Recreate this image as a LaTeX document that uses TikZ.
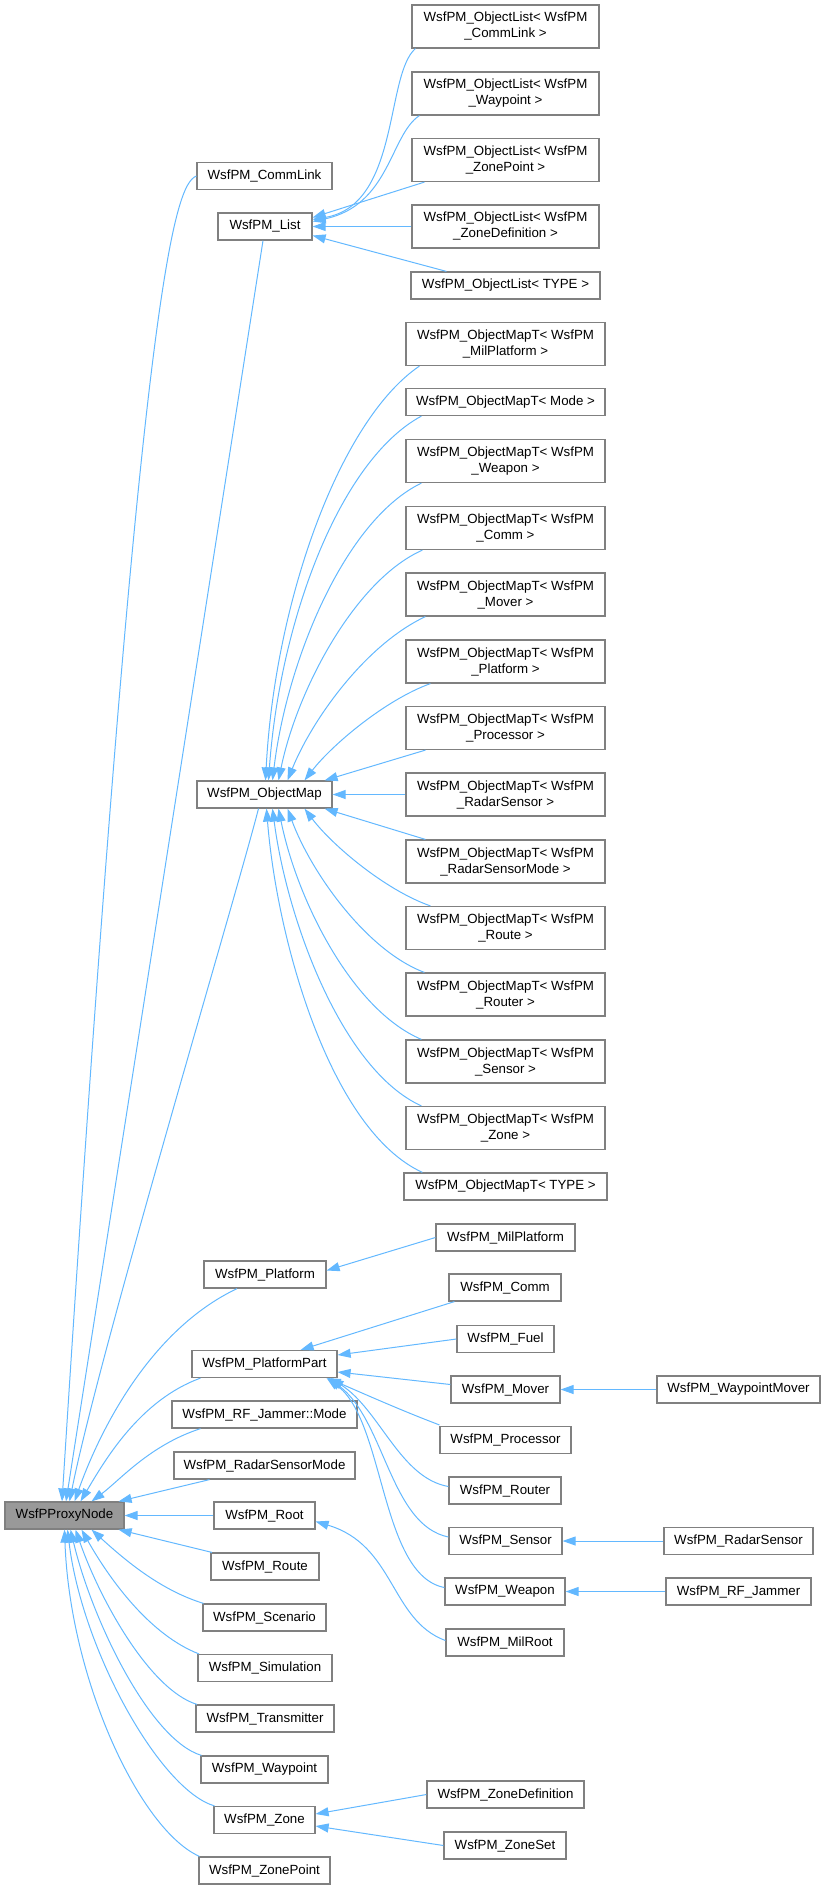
\documentclass[tikz,border=0pt]{standalone}
\usepackage{fontspec}
\setmainfont{Liberation Sans}
\usetikzlibrary{arrows.meta}
\begin{document}
\begin{tikzpicture}[x=1pt,y=1pt,
  box/.style={draw=black!50, line width=1.2pt, fill=white, inner sep=0pt, align=center,
    minimum height=27pt, font=\fontsize{13.3}{16}\selectfont},
  two/.style={minimum height=43pt},
  w/.style={minimum width=#1pt},
  e/.style={draw=edgeblue, line width=1pt, -{Triangle[length=13pt,width=9pt]}}]
\definecolor{edgeblue}{RGB}{99,184,255}
\useasboundingbox (0,0) rectangle (822,-1889);
% left
\node[box,w=119,fill=black!40] (PN) at (64.5,-1515.5) {WsfPProxyNode};
% column B
\node[box,w=135] (CL) at (264.5,-176) {WsfPM\_CommLink};
\node[box,w=94] (LS) at (265,-226.5) {WsfPM\_List};
\node[box,w=135] (OM) at (264.5,-794.5) {WsfPM\_ObjectMap};
\node[box,w=122] (PF) at (265,-1274.5) {WsfPM\_Platform};
\node[box,w=145] (PP) at (264.5,-1364) {WsfPM\_PlatformPart};
\node[box,w=185] (RJM) at (264.5,-1414.5) {WsfPM\_RF\_Jammer::Mode};
\node[box,w=181] (RSM) at (264.5,-1465.5) {WsfPM\_RadarSensorMode};
\node[box,w=101] (RT) at (264.5,-1515.5) {WsfPM\_Root};
\node[box,w=108] (RO) at (265,-1566.5) {WsfPM\_Route};
\node[box,w=123] (SC) at (264.5,-1617.5) {WsfPM\_Scenario};
\node[box,w=134] (SI) at (265,-1668) {WsfPM\_Simulation};
\node[box,w=138] (TR) at (265,-1718.5) {WsfPM\_Transmitter};
\node[box,w=127] (WP) at (264.5,-1769.5) {WsfPM\_Waypoint};
\node[box,w=101] (ZN) at (264.5,-1820) {WsfPM\_Zone};
\node[box,w=131] (ZP) at (264.5,-1870.5) {WsfPM\_ZonePoint};
% object lists
\node[box,two,w=187] (OLc) at (505.5,-26.5) {WsfPM\_ObjectList< WsfPM\\\_CommLink >};
\node[box,two,w=187] (OLw) at (505.5,-93.5) {WsfPM\_ObjectList< WsfPM\\\_Waypoint >};
\node[box,two,w=187] (OLz) at (505.5,-160) {WsfPM\_ObjectList< WsfPM\\\_ZonePoint >};
\node[box,two,w=187] (OLd) at (505.5,-226.5) {WsfPM\_ObjectList< WsfPM\\\_ZoneDefinition >};
\node[box,w=189] (OLt) at (505.5,-285.5) {WsfPM\_ObjectList< TYPE >};
% object maps
\node[box,two,w=199] (M1) at (505.5,-344) {WsfPM\_ObjectMapT< WsfPM\\\_MilPlatform >};
\node[box,w=199] (M2) at (505.5,-402) {WsfPM\_ObjectMapT< Mode >};
\node[box,two,w=199] (M3) at (505.5,-461) {WsfPM\_ObjectMapT< WsfPM\\\_Weapon >};
\node[box,two,w=199] (M4) at (505.5,-528) {WsfPM\_ObjectMapT< WsfPM\\\_Comm >};
\node[box,two,w=199] (M5) at (505.5,-594.5) {WsfPM\_ObjectMapT< WsfPM\\\_Mover >};
\node[box,two,w=199] (M6) at (505.5,-661.5) {WsfPM\_ObjectMapT< WsfPM\\\_Platform >};
\node[box,two,w=199] (M7) at (505.5,-728) {WsfPM\_ObjectMapT< WsfPM\\\_Processor >};
\node[box,two,w=199] (M8) at (505.5,-794.5) {WsfPM\_ObjectMapT< WsfPM\\\_RadarSensor >};
\node[box,two,w=199] (M9) at (505.5,-861.5) {WsfPM\_ObjectMapT< WsfPM\\\_RadarSensorMode >};
\node[box,two,w=199] (M10) at (505.5,-928) {WsfPM\_ObjectMapT< WsfPM\\\_Route >};
\node[box,two,w=199] (M11) at (505.5,-994.5) {WsfPM\_ObjectMapT< WsfPM\\\_Router >};
\node[box,two,w=199] (M12) at (505.5,-1061.5) {WsfPM\_ObjectMapT< WsfPM\\\_Sensor >};
\node[box,two,w=199] (M13) at (505.5,-1128) {WsfPM\_ObjectMapT< WsfPM\\\_Zone >};
\node[box,w=203] (M14) at (505.5,-1186.5) {WsfPM\_ObjectMapT< TYPE >};
% third column
\node[box,w=139] (MP) at (505.5,-1237.5) {WsfPM\_MilPlatform};
\node[box,w=112] (CO) at (505,-1287.5) {WsfPM\_Comm};
\node[box,w=97] (FU) at (505.5,-1339) {WsfPM\_Fuel};
\node[box,w=109] (MV) at (505.5,-1389.5) {WsfPM\_Mover};
\node[box,w=131] (PR) at (505.5,-1440) {WsfPM\_Processor};
\node[box,w=112] (RR) at (505,-1490.5) {WsfPM\_Router};
\node[box,w=113] (SE) at (505.5,-1541) {WsfPM\_Sensor};
\node[box,w=120] (WE) at (505,-1591.5) {WsfPM\_Weapon};
\node[box,w=118] (MR) at (505,-1642.5) {WsfPM\_MilRoot};
\node[box,w=157] (ZD) at (505.5,-1794.5) {WsfPM\_ZoneDefinition};
\node[box,w=122] (ZS) at (505,-1845.5) {WsfPM\_ZoneSet};
% far right
\node[box,w=163] (WM) at (738.5,-1389.5) {WsfPM\_WaypointMover};
\node[box,w=149] (RS) at (738.5,-1541) {WsfPM\_RadarSensor};
\node[box,w=145] (RJ) at (738.5,-1591.5) {WsfPM\_RF\_Jammer};
% edges to ProxyNode
\draw[e] (CL.west) .. controls (175,-185) and (140,-270) .. ([xshift=-2.5pt]PN.north);
\draw[e] ([xshift=-2pt]LS.south) -- ([xshift=1.5pt]PN.north);
\draw[e] ([xshift=-6pt]OM.south) .. controls (235,-900) and (100,-1350) .. ([xshift=5pt]PN.north);
\draw[e] ([xshift=-28pt]PF.south) .. controls (150,-1330) and (100,-1430) .. ([xshift=10pt]PN.north);
\draw[e] ([xshift=-64pt]PP.south) .. controls (140,-1400) and (105,-1460) .. ([xshift=16pt]PN.north);
\draw[e] ([xshift=-64pt]RJM.south) .. controls (150,-1445) and (120,-1480) .. ([xshift=27pt]PN.north);
\draw[e] ([xshift=-55pt]RSM.south) -- ([xshift=-6pt]PN.north east);
\draw[e] (RT.west) -- (PN.east);
\draw[e] ([xshift=-53pt]RO.north) -- ([xshift=-6pt]PN.south east);
\draw[e] ([xshift=-61pt]SC.north) .. controls (160,-1590) and (125,-1560) .. ([xshift=27pt]PN.south);
\draw[e] ([xshift=-66pt]SI.north) .. controls (150,-1635) and (110,-1580) .. ([xshift=17pt]PN.south);
\draw[e] ([xshift=-68pt]TR.north) .. controls (150,-1690) and (100,-1600) .. ([xshift=11pt]PN.south);
\draw[e] ([xshift=-63pt]WP.north) .. controls (150,-1740) and (92,-1620) .. ([xshift=6pt]PN.south);
\draw[e] ([xshift=-50pt]ZN.north) .. controls (160,-1790) and (82,-1650) .. ([xshift=3pt]PN.south);
\draw[e] ([xshift=-65pt]ZP.north) .. controls (140,-1830) and (70,-1680) .. ([xshift=0pt]PN.south);
% edges to List
\draw[e] ([xshift=4pt]OLc.south west) .. controls (385,-75) and (400,-205) .. ([yshift=7pt]LS.east);
\draw[e] ([xshift=8pt]OLw.south west) .. controls (390,-135) and (390,-205) .. ([yshift=5pt]LS.east);
\draw[e] ([xshift=13pt]OLz.south west) -- ([yshift=9pt]LS.east);
\draw[e] (OLd.west) -- (LS.east);
\draw[e] ([xshift=36pt]OLt.north west) -- ([yshift=-9pt]LS.east);
% edges to ObjectMap
\draw[e] ([xshift=14pt]M1.south west) .. controls (340,-420) and (275,-600) .. ([xshift=1pt]OM.north);
\draw[e] ([xshift=16pt]M2.south west) .. controls (340,-460) and (280,-620) .. ([xshift=4pt]OM.north);
\draw[e] ([xshift=16pt]M3.south west) .. controls (345,-520) and (287,-660) .. ([xshift=8pt]OM.north);
\draw[e] ([xshift=17pt]M4.south west) .. controls (355,-580) and (297,-690) .. ([xshift=14pt]OM.north);
\draw[e] ([xshift=20pt]M5.south west) .. controls (365,-645) and (312,-720) .. ([xshift=23pt]OM.north);
\draw[e] ([xshift=25pt]M6.south west) .. controls (385,-700) and (332,-745) .. ([xshift=40pt]OM.north);
\draw[e] ([xshift=20pt]M7.south west) -- ([xshift=-8pt]OM.north east);
\draw[e] (M8.west) -- (OM.east);
\draw[e] ([xshift=20pt]M9.north west) -- ([xshift=-8pt]OM.south east);
\draw[e] ([xshift=25pt]M10.north west) .. controls (385,-890) and (332,-845) .. ([xshift=40pt]OM.south);
\draw[e] ([xshift=19pt]M11.north west) .. controls (365,-950) and (310,-870) .. ([xshift=23pt]OM.south);
\draw[e] ([xshift=16pt]M12.north west) .. controls (352,-1010) and (297,-900) .. ([xshift=14pt]OM.south);
\draw[e] ([xshift=16pt]M13.north west) .. controls (342,-1070) and (287,-920) .. ([xshift=8pt]OM.south);
\draw[e] ([xshift=19pt]M14.north west) .. controls (330,-1130) and (277,-940) .. ([xshift=2pt]OM.south);
% Platform
\draw[e] (MP.west) -- ([yshift=4pt]PF.east);
% PlatformPart
\draw[e] ([xshift=6pt]CO.south west) -- ([xshift=-37pt]PP.north east);
\draw[e] (FU.west) -- ([yshift=9pt]PP.east);
\draw[e] ([yshift=5pt]MV.west) -- ([yshift=-8pt]PP.east);
\draw[e] ([yshift=1pt]PR.north west) .. controls (400,-1410) and (360,-1392) .. ([xshift=-10pt]PP.south east);
\draw[e] ([yshift=4pt]RR.west) .. controls (400,-1478) and (380,-1410) .. ([xshift=-7pt]PP.south east);
\draw[e] ([yshift=4pt]SE.west) .. controls (390,-1525) and (385,-1420) .. ([xshift=-9pt]PP.south east);
\draw[e] ([yshift=4pt]WE.west) .. controls (380,-1575) and (385,-1420) .. ([xshift=-11pt]PP.south east);
% Root
\draw[e] ([yshift=2pt]MR.west) .. controls (390,-1620) and (395,-1545) .. ([yshift=-6pt]RT.east);
% Zone
\draw[e] (ZD.west) -- ([yshift=6pt]ZN.east);
\draw[e] (ZS.west) -- ([yshift=-6pt]ZN.east);
% far right
\draw[e] (WM.west) -- (MV.east);
\draw[e] (RS.west) -- (SE.east);
\draw[e] (RJ.west) -- (WE.east);
\end{tikzpicture}
\end{document}
